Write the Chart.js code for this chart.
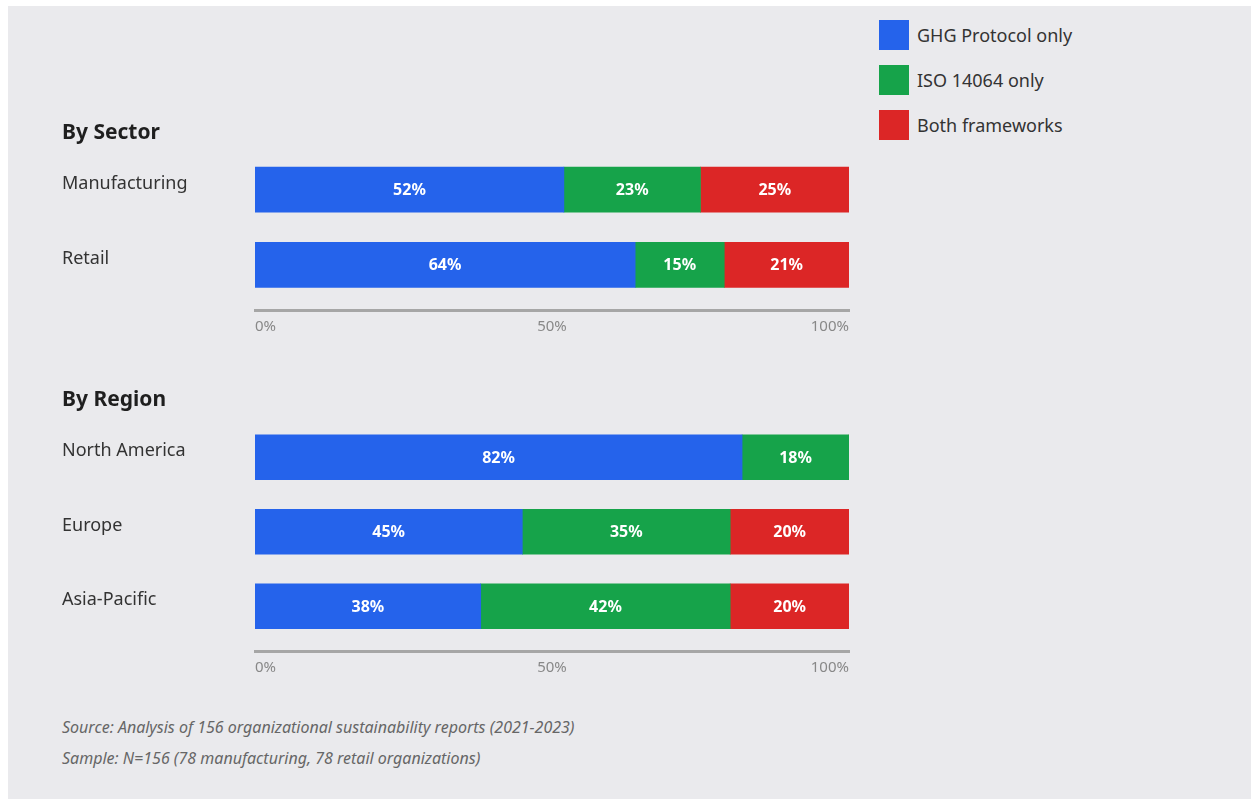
<!DOCTYPE html>
<html>
<head>
<meta charset="utf-8">
<script src="https://cdn.jsdelivr.net/npm/chart.js@4/dist/chart.umd.min.js"></script>
<style>
  body { margin: 0; background: #fff; font-family: "Noto Sans", sans-serif; }
  #panel { position: absolute; left: 8px; top: 6px; width: 1243px; height: 793px; background: #eaeaed; }
  .abs { position: absolute; }
  .title { font-size: 21px; font-weight: bold; color: #1f1f1f; line-height: 24px; z-index: 2; }
  .legend-item { position: absolute; left: 879px; height: 30px; display: flex; align-items: center; }
  .legend-item span.sw { width: 30px; height: 30px; display: inline-block; margin-right: 8px; }
  .legend-item span.tx { font-size: 18px; color: #333; }
  .note { font-size: 16px; font-style: italic; color: #666; line-height: 20px; left: 62px; }
</style>
</head>
<body>
<div id="panel"></div>
<div id="legend"></div>
<div class="abs title" style="left:62px; top:119px;">By Sector</div>
<div class="abs" style="left:62px; top:132px; width:795px; height:212px;"><canvas id="sectorChart"></canvas></div>
<div class="abs title" style="left:62px; top:386px;">By Region</div>
<div class="abs" style="left:62px; top:400px; width:795px; height:285px;"><canvas id="regionChart"></canvas></div>
<div class="abs note" style="top:717px;">Source: Analysis of 156 organizational sustainability reports (2021-2023)</div>
<div class="abs note" style="top:748px;">Sample: N=156 (78 manufacturing, 78 retail organizations)</div>
<script>
const seriesNames = ["GHG Protocol only", "ISO 14064 only", "Both frameworks"];
const seriesColors = ["#2563eb", "#16a34a", "#dc2626"];

const sectorLabels = ["Manufacturing", "Retail"];
const sectorGhg = [52, 64];
const sectorIso = [23, 15];
const sectorBoth = [25, 21];

const regionLabels = ["North America", "Europe", "Asia-Pacific"];
const regionGhg = [82, 45, 38];
const regionIso = [18, 35, 42];
const regionBoth = [0, 20, 20];

const xTicks = [0, 50, 100];

Chart.defaults.font.family = '"Noto Sans", sans-serif';
Chart.defaults.animation = false;

// legend (html, top right)
const legendEl = document.getElementById("legend");
seriesNames.forEach((name, i) => {
    const item = document.createElement("div");
    item.className = "legend-item";
    item.style.top = (20 + i * 45) + "px";
    item.innerHTML = '<span class="sw" style="background:' + seriesColors[i] + '"></span><span class="tx">' + name + '</span>';
    legendEl.appendChild(item);
});

// percentage text in the middle of each segment
const valueLabels = {
    id: "valueLabels",
    afterDatasetsDraw(chart) {
        const ctx = chart.ctx;
        ctx.save();
        ctx.font = 'bold 16px "Noto Sans", sans-serif';
        ctx.fillStyle = "#ffffff";
        ctx.textAlign = "center";
        ctx.textBaseline = "middle";
        chart.data.datasets.forEach((ds, di) => {
            const meta = chart.getDatasetMeta(di);
            meta.data.forEach((bar, i) => {
                const v = ds.data[i].x;
                if (!v) return;
                const p = bar.getProps(["x", "base", "y"], true);
                ctx.fillText(v + "%", (p.x + p.base) / 2, p.y + 1);
            });
        });
        ctx.restore();
    }
};

function makeChart(id, labels, series) {
    return new Chart(document.getElementById(id), {
        type: "bar",
        data: {
            datasets: series.map((values, s) => ({
                label: seriesNames[s],
                data: values.map((v, i) => ({ x: v, y: i })),
                backgroundColor: seriesColors[s],
                borderWidth: 0,
                barThickness: 45
            }))
        },
        options: {
            indexAxis: "y",
            responsive: true,
            maintainAspectRatio: false,
            layout: { padding: { top: 20, left: 0, right: 0, bottom: 0 } },
            plugins: {
                legend: { display: false },
                tooltip: { enabled: false }
            },
            scales: {
                x: {
                    type: "linear",
                    stacked: true,
                    min: 0,
                    max: 100,
                    afterBuildTicks: (scale) => { scale.ticks = xTicks.map(v => ({ value: v })); },
                    grid: { display: false, drawTicks: false },
                    border: { display: true, color: "#a6a6a6", width: 3 },
                    ticks: {
                        align: "inner",
                        color: "#888888",
                        font: { size: 15 },
                        padding: 8,
                        callback: (v) => v + "%"
                    }
                },
                y: {
                    type: "linear",
                    stacked: true,
                    reverse: true,
                    offset: false,
                    min: -0.5,
                    max: labels.length - 0.4,
                    afterBuildTicks: (scale) => { scale.ticks = labels.map((l, i) => ({ value: i })); },
                    afterFit: (scale) => { scale.width = 193; },
                    grid: { display: false, drawTicks: false, offset: false },
                    border: { display: false },
                    ticks: {
                        crossAlign: "far",
                        labelOffset: -6,
                        padding: 0,
                        color: "#333333",
                        font: { size: 18 },
                        autoSkip: false,
                        callback: (v, i) => labels[i]
                    }
                }
            }
        },
        plugins: [valueLabels]
    });
}

makeChart("sectorChart", sectorLabels, [sectorGhg, sectorIso, sectorBoth]);
makeChart("regionChart", regionLabels, [regionGhg, regionIso, regionBoth]);
</script>
</body>
</html>
